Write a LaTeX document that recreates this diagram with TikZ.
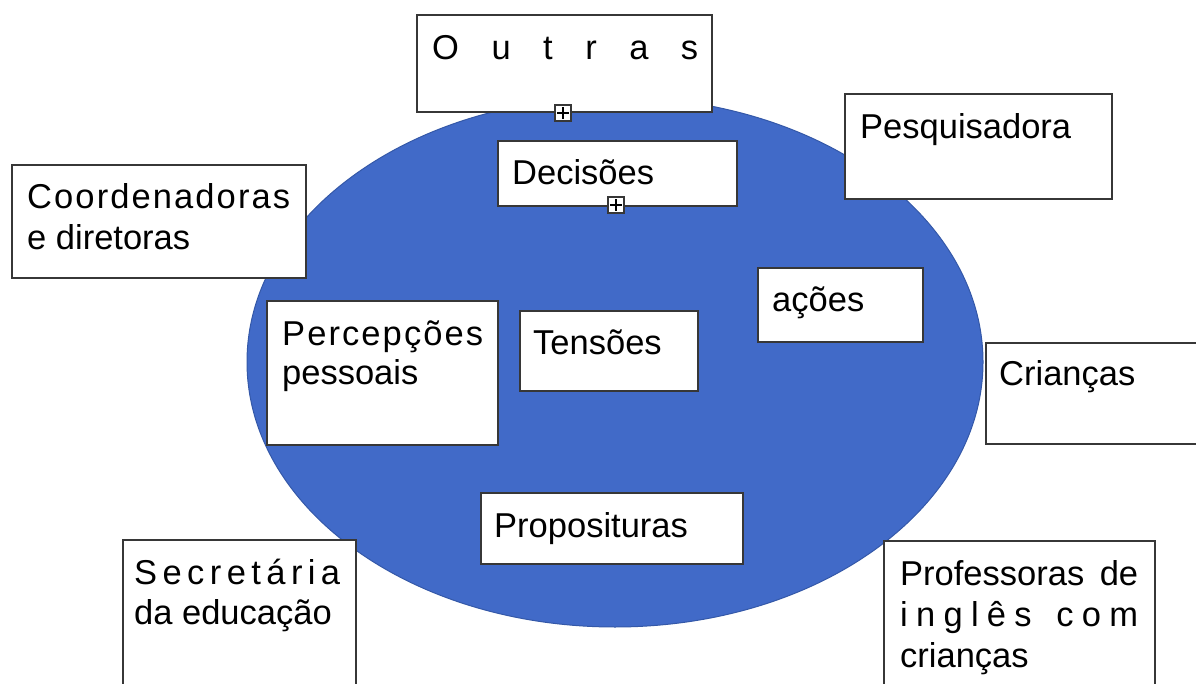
\documentclass[tikz,border=0pt]{standalone}
\usepackage{fontspec}
\setmainfont{Liberation Sans}
\definecolor{ellfill}{RGB}{65,106,200}
\definecolor{elldraw}{RGB}{52,88,168}
\definecolor{boxline}{RGB}{55,55,55}
\tikzset{
  box/.style={draw=boxline, line width=1.6pt, fill=white, anchor=north west, inner sep=0pt},
  lbl/.style={anchor=base west, inner sep=0pt, font=\fontsize{34.5}{41}\selectfont},
  plusbox/.style={draw=boxline, line width=1.1pt, fill=white, minimum size=16pt, inner sep=0pt}
}
\begin{document}
\begin{tikzpicture}[x=1pt,y=-1pt]
\useasboundingbox (0,0) rectangle (1196,684);
% central ellipse
\draw[fill=ellfill, draw=elldraw, line width=1pt] (615,362) ellipse [x radius=368pt, y radius=265pt];
% boxes
\node[box, minimum width=295pt, minimum height=97pt] (outras) at (416,14) {};
\node[box, minimum width=239pt, minimum height=65pt] (decisoes) at (497,140) {};
\node[box, minimum width=267pt, minimum height=105pt] (pesq) at (844,93) {};
\node[box, minimum width=294pt, minimum height=113pt] (coord) at (11,164) {};
\node[box, minimum width=165pt, minimum height=74pt] (acoes) at (757,267) {};
\node[box, minimum width=231pt, minimum height=144pt] (percep) at (266,300) {};
\node[box, minimum width=178pt, minimum height=80pt] (tensoes) at (519,310) {};
\node[box, minimum width=230pt, minimum height=101pt] (criancas) at (985,342) {};
\node[box, minimum width=262pt, minimum height=71pt] (propos) at (480,492) {};
\node[box, minimum width=233pt, minimum height=160pt] (secret) at (122,539) {};
\node[box, minimum width=271pt, minimum height=160pt] (prof) at (883,540) {};
% small expand markers
\node[plusbox] (plusA) at (563,113) {};
\draw[line width=1.1pt] ([xshift=3pt]plusA.west) -- ([xshift=-3pt]plusA.east);
\draw[line width=1.1pt] ([yshift=-3pt]plusA.north) -- ([yshift=3pt]plusA.south);
\node[plusbox] (plusB) at (616,205) {};
\draw[line width=1.1pt] ([xshift=3pt]plusB.west) -- ([xshift=-3pt]plusB.east);
\draw[line width=1.1pt] ([yshift=-3pt]plusB.north) -- ([yshift=3pt]plusB.south);
% labels
\node[lbl] (tOutras) at (432,60) {\makebox[266pt][s]{O\hfill u\hfill t\hfill r\hfill a\hfill s}};
\node[lbl] (tDecisoes) at (512,185) {Decisões};
\node[lbl] (tPesq) at (860,139) {Pesquisadora};
\node[lbl] (tCoord1) at (27,209) {\makebox[263pt][s]{C\hfill o\hfill o\hfill r\hfill d\hfill e\hfill n\hfill a\hfill d\hfill o\hfill r\hfill a\hfill s}};
\node[lbl] (tCoord2) at (27,250) {e diretoras};
\node[lbl] (tAcoes) at (772,312) {ações};
\node[lbl] (tPercep1) at (282,345) {\makebox[201pt][s]{P\hfill e\hfill r\hfill c\hfill e\hfill p\hfill ç\hfill õ\hfill e\hfill s}};
\node[lbl] (tPercep2) at (282,384) {pessoais};
\node[lbl] (tTensoes) at (533,355) {Tensões};
\node[lbl] (tCriancas) at (999,385) {Crianças};
\node[lbl] (tPropos) at (494,537) {Proposituras};
\node[lbl] (tSecret1) at (134,584) {\makebox[206pt][s]{S\hfill e\hfill c\hfill r\hfill e\hfill t\hfill á\hfill r\hfill i\hfill a}};
\node[lbl] (tSecret2) at (134,624) {da educação};
\node[lbl] (tProf1) at (900,585) {\makebox[238pt][s]{Professoras de}};
\node[lbl] (tProf2) at (900,626) {\makebox[238pt][s]{i\hfill n\hfill g\hfill l\hfill ê\hfill s\hfill\hfill\hfill c\hfill o\hfill m}};
\node[lbl] (tProf3) at (900,667) {crianças};
\end{tikzpicture}
\end{document}
